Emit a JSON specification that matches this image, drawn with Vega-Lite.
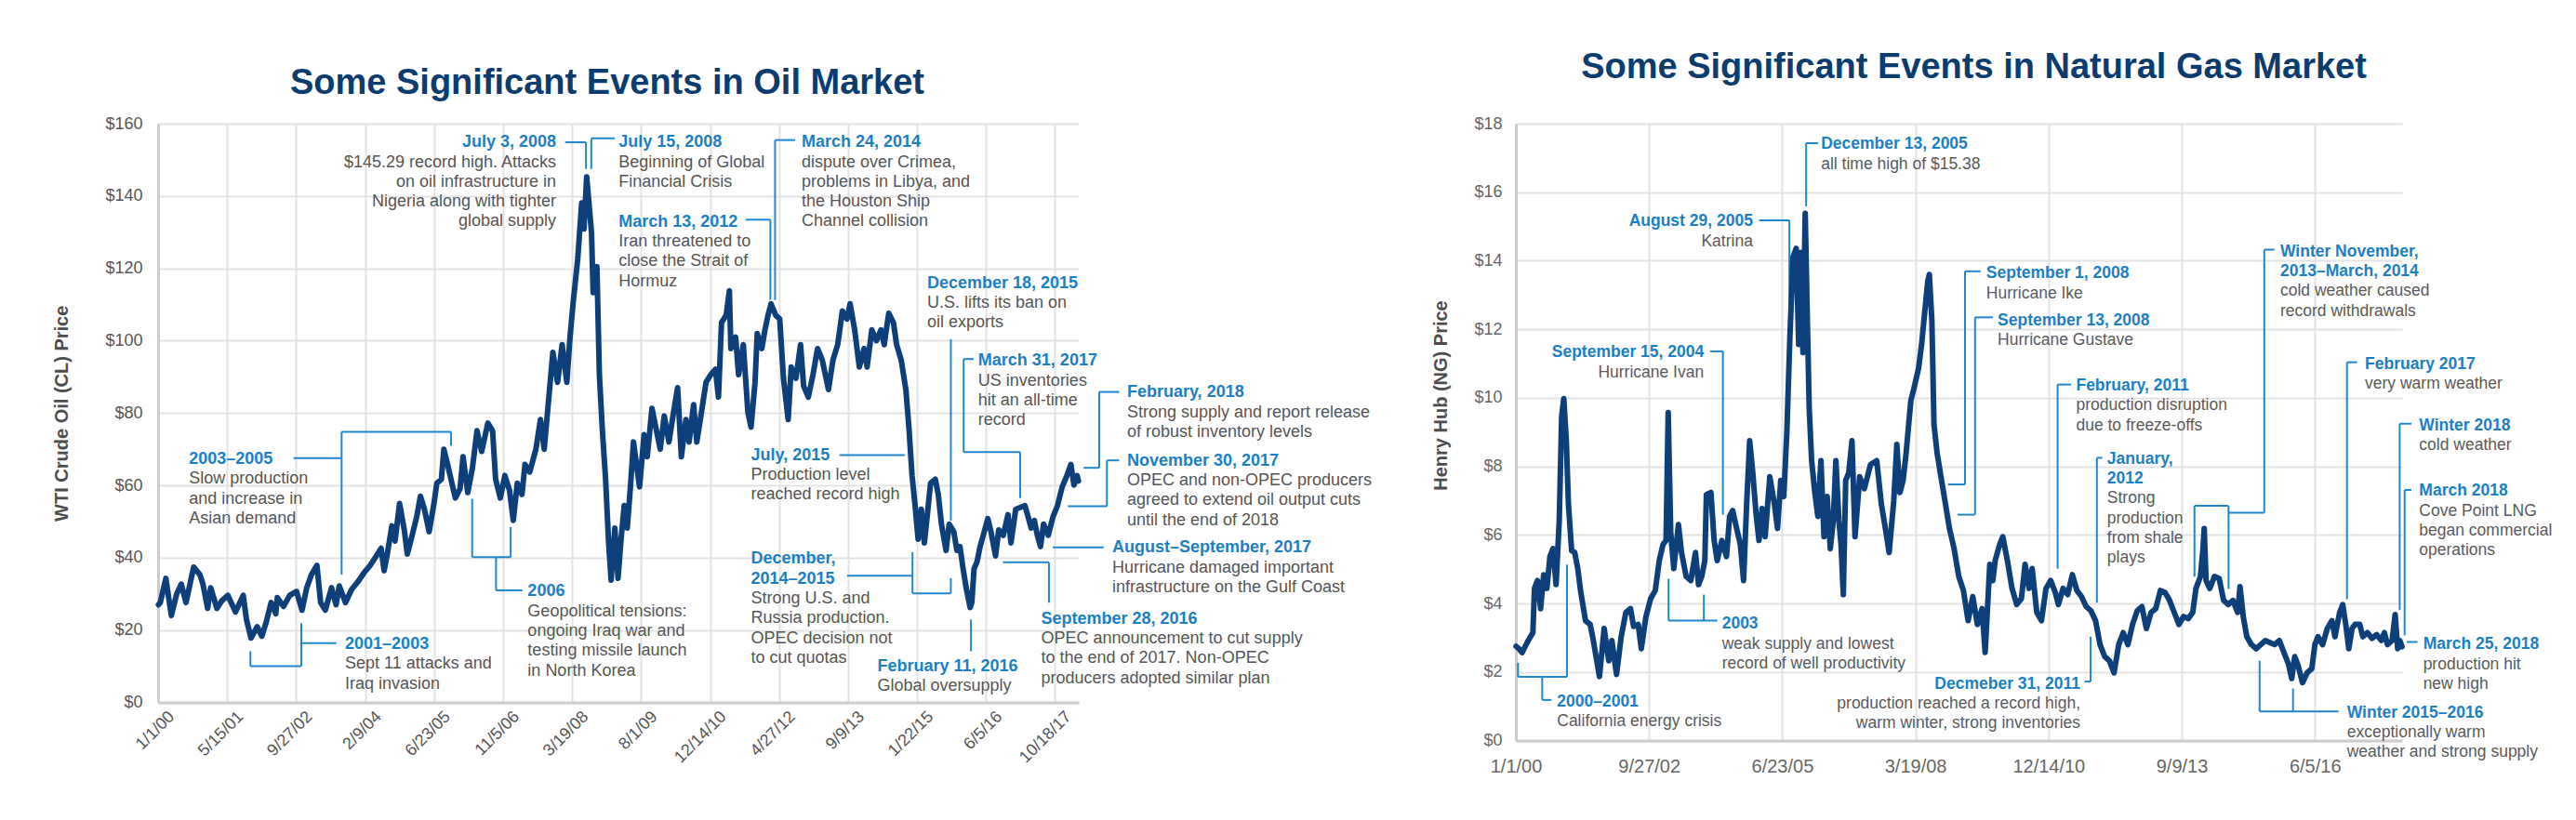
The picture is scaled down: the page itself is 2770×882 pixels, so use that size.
{
  "$schema": "https://vega.github.io/schema/vega-lite/v6.json",
  "autosize": {"type": "none"},
  "padding": {"left": 170, "top": 133, "right": 2600, "bottom": 749},
  "background": "white",
  "config": {
    "view": {"stroke": null},
    "font": "Liberation Sans"
  },
  "datasets": {
    "oil": [
      {"date": "2000-01-04", "price": 27.0}, {"date": "2000-01-17", "price": 27.6}, {"date": "2000-02-26", "price": 34.3}, {"date": "2000-04-06", "price": 24.0}, {"date": "2000-05-15", "price": 30.0}, {"date": "2000-06-17", "price": 32.7}, {"date": "2000-07-21", "price": 27.6}, {"date": "2000-09-15", "price": 37.4}, {"date": "2000-10-30", "price": 35.3}, {"date": "2000-11-21", "price": 32.7}, {"date": "2000-12-25", "price": 26.0},
      {"date": "2001-01-16", "price": 31.7}, {"date": "2001-03-02", "price": 26.0}, {"date": "2001-04-05", "price": 28.0}, {"date": "2001-05-20", "price": 29.6}, {"date": "2001-07-15", "price": 25.0}, {"date": "2001-09-09", "price": 29.6}, {"date": "2001-10-02", "price": 23.0}, {"date": "2001-11-04", "price": 17.8}, {"date": "2001-12-19", "price": 20.9},
      {"date": "2002-01-22", "price": 18.3}, {"date": "2002-02-24", "price": 22.4}, {"date": "2002-03-30", "price": 27.6}, {"date": "2002-05-03", "price": 24.5}, {"date": "2002-05-14", "price": 29.0}, {"date": "2002-06-28", "price": 26.5}, {"date": "2002-08-12", "price": 29.6}, {"date": "2002-09-30", "price": 30.7}, {"date": "2002-11-09", "price": 25.5}, {"date": "2002-12-13", "price": 31.7},
      {"date": "2003-01-16", "price": 35.3}, {"date": "2003-02-25", "price": 37.9}, {"date": "2003-03-24", "price": 27.6}, {"date": "2003-04-27", "price": 25.5}, {"date": "2003-06-11", "price": 31.7}, {"date": "2003-07-14", "price": 27.0}, {"date": "2003-08-06", "price": 32.2}, {"date": "2003-09-20", "price": 27.6}, {"date": "2003-11-03", "price": 31.2}, {"date": "2003-12-18", "price": 33.3},
      {"date": "2004-02-01", "price": 35.8}, {"date": "2004-03-17", "price": 37.9}, {"date": "2004-05-01", "price": 40.5}, {"date": "2004-06-04", "price": 42.6}, {"date": "2004-06-26", "price": 36.4}, {"date": "2004-07-19", "price": 41.0}, {"date": "2004-08-21", "price": 48.8}, {"date": "2004-09-13", "price": 44.6}, {"date": "2004-10-16", "price": 55.0}, {"date": "2004-11-19", "price": 47.7}, {"date": "2004-12-11", "price": 41.0},
      {"date": "2005-01-14", "price": 46.0}, {"date": "2005-02-17", "price": 51.3}, {"date": "2005-03-16", "price": 57.0}, {"date": "2005-04-14", "price": 53.4}, {"date": "2005-05-18", "price": 47.2}, {"date": "2005-06-20", "price": 54.4}, {"date": "2005-07-13", "price": 60.6}, {"date": "2005-08-15", "price": 61.7}, {"date": "2005-09-02", "price": 70.0}, {"date": "2005-09-29", "price": 65.8}, {"date": "2005-11-02", "price": 60.1}, {"date": "2005-11-24", "price": 56.5}, {"date": "2005-12-28", "price": 59.0},
      {"date": "2006-01-19", "price": 67.9}, {"date": "2006-02-22", "price": 58.0}, {"date": "2006-03-28", "price": 64.8}, {"date": "2006-04-30", "price": 75.1}, {"date": "2006-06-03", "price": 69.4}, {"date": "2006-07-18", "price": 77.2}, {"date": "2006-08-21", "price": 75.1}, {"date": "2006-09-12", "price": 61.7}, {"date": "2006-10-16", "price": 56.5}, {"date": "2006-11-18", "price": 62.7}, {"date": "2006-12-22", "price": 58.6},
      {"date": "2007-01-18", "price": 50.3}, {"date": "2007-02-16", "price": 60.6}, {"date": "2007-03-22", "price": 57.5}, {"date": "2007-04-13", "price": 65.8}, {"date": "2007-05-17", "price": 63.7}, {"date": "2007-07-01", "price": 70.0}, {"date": "2007-08-03", "price": 78.2}, {"date": "2007-08-30", "price": 70.0}, {"date": "2007-09-28", "price": 82.3}, {"date": "2007-11-01", "price": 96.8}, {"date": "2007-12-05", "price": 88.5},
      {"date": "2008-01-07", "price": 98.9}, {"date": "2008-02-10", "price": 88.5}, {"date": "2008-03-04", "price": 100.9}, {"date": "2008-03-26", "price": 110.2}, {"date": "2008-04-29", "price": 122.6}, {"date": "2008-05-28", "price": 138.1}, {"date": "2008-06-13", "price": 130.9}, {"date": "2008-07-03", "price": 145.29}, {"date": "2008-08-07", "price": 129.8}, {"date": "2008-08-19", "price": 113.3}, {"date": "2008-09-15", "price": 120.5}, {"date": "2008-10-03", "price": 90.6}, {"date": "2008-10-25", "price": 75.1}, {"date": "2008-11-17", "price": 61.7}, {"date": "2008-12-09", "price": 44.1}, {"date": "2008-12-27", "price": 33.8},
      {"date": "2009-01-23", "price": 48.2}, {"date": "2009-02-15", "price": 34.3}, {"date": "2009-03-09", "price": 45.1}, {"date": "2009-04-01", "price": 54.4}, {"date": "2009-04-23", "price": 48.2}, {"date": "2009-05-16", "price": 59.6}, {"date": "2009-06-07", "price": 72.0}, {"date": "2009-07-21", "price": 59.6}, {"date": "2009-08-23", "price": 74.0}, {"date": "2009-09-15", "price": 67.9}, {"date": "2009-10-19", "price": 81.3}, {"date": "2009-11-21", "price": 75.1}, {"date": "2009-12-18", "price": 70.0},
      {"date": "2010-01-16", "price": 79.2}, {"date": "2010-02-19", "price": 72.0}, {"date": "2010-03-25", "price": 80.3}, {"date": "2010-04-23", "price": 87.0}, {"date": "2010-05-20", "price": 67.9}, {"date": "2010-06-22", "price": 78.2}, {"date": "2010-07-15", "price": 72.0}, {"date": "2010-08-17", "price": 82.3}, {"date": "2010-09-09", "price": 72.0}, {"date": "2010-10-13", "price": 80.3}, {"date": "2010-11-15", "price": 88.5}, {"date": "2010-12-19", "price": 90.6},
      {"date": "2011-01-22", "price": 92.1}, {"date": "2011-02-13", "price": 84.4}, {"date": "2011-03-07", "price": 105.0}, {"date": "2011-04-10", "price": 107.0}, {"date": "2011-05-03", "price": 113.8}, {"date": "2011-05-14", "price": 97.8}, {"date": "2011-06-17", "price": 101.0}, {"date": "2011-07-09", "price": 90.6}, {"date": "2011-08-12", "price": 98.9}, {"date": "2011-09-14", "price": 80.3}, {"date": "2011-10-07", "price": 76.1}, {"date": "2011-11-05", "price": 88.5}, {"date": "2011-11-21", "price": 102.0}, {"date": "2011-12-24", "price": 97.8},
      {"date": "2012-01-16", "price": 103.0}, {"date": "2012-02-07", "price": 107.0}, {"date": "2012-02-29", "price": 110.2}, {"date": "2012-04-03", "price": 107.0}, {"date": "2012-05-02", "price": 106.0}, {"date": "2012-05-29", "price": 89.6}, {"date": "2012-07-02", "price": 78.2}, {"date": "2012-07-24", "price": 92.7}, {"date": "2012-08-27", "price": 89.6}, {"date": "2012-09-30", "price": 98.9}, {"date": "2012-10-22", "price": 87.5}, {"date": "2012-11-25", "price": 84.4}, {"date": "2012-12-29", "price": 90.6},
      {"date": "2013-01-31", "price": 97.8}, {"date": "2013-03-06", "price": 94.7}, {"date": "2013-04-20", "price": 86.5}, {"date": "2013-05-23", "price": 94.7}, {"date": "2013-06-26", "price": 98.9}, {"date": "2013-07-30", "price": 108.2}, {"date": "2013-09-01", "price": 106.0}, {"date": "2013-09-24", "price": 110.2}, {"date": "2013-10-27", "price": 103.0}, {"date": "2013-11-30", "price": 92.7},
      {"date": "2014-01-03", "price": 97.8}, {"date": "2014-01-25", "price": 92.7}, {"date": "2014-02-28", "price": 103.0}, {"date": "2014-04-03", "price": 100.0}, {"date": "2014-05-06", "price": 103.0}, {"date": "2014-05-29", "price": 98.9}, {"date": "2014-07-01", "price": 107.6}, {"date": "2014-08-04", "price": 105.0}, {"date": "2014-08-27", "price": 98.9}, {"date": "2014-09-29", "price": 94.7}, {"date": "2014-11-02", "price": 86.5}, {"date": "2014-11-24", "price": 76.1}, {"date": "2014-12-17", "price": 62.7},
      {"date": "2015-01-08", "price": 54.4}, {"date": "2015-01-30", "price": 45.1}, {"date": "2015-02-22", "price": 53.4}, {"date": "2015-03-16", "price": 44.1}, {"date": "2015-04-08", "price": 52.4}, {"date": "2015-04-30", "price": 60.6}, {"date": "2015-06-03", "price": 61.7}, {"date": "2015-06-25", "price": 57.5}, {"date": "2015-07-18", "price": 49.3}, {"date": "2015-08-20", "price": 42.0}, {"date": "2015-09-12", "price": 49.3}, {"date": "2015-10-15", "price": 47.2}, {"date": "2015-11-07", "price": 42.0}, {"date": "2015-11-29", "price": 43.1}, {"date": "2015-12-22", "price": 36.9},
      {"date": "2016-01-13", "price": 31.7}, {"date": "2016-02-11", "price": 26.2}, {"date": "2016-02-23", "price": 27.6}, {"date": "2016-03-10", "price": 36.9}, {"date": "2016-04-01", "price": 38.9}, {"date": "2016-04-23", "price": 43.1}, {"date": "2016-05-16", "price": 46.2}, {"date": "2016-06-18", "price": 50.8}, {"date": "2016-07-11", "price": 47.2}, {"date": "2016-08-13", "price": 40.5}, {"date": "2016-09-05", "price": 47.7}, {"date": "2016-10-08", "price": 46.2}, {"date": "2016-11-11", "price": 51.9}, {"date": "2016-12-03", "price": 44.1},
      {"date": "2017-01-06", "price": 53.4}, {"date": "2017-02-09", "price": 53.9}, {"date": "2017-03-14", "price": 54.4}, {"date": "2017-04-06", "price": 51.3}, {"date": "2017-04-28", "price": 48.2}, {"date": "2017-05-21", "price": 50.3}, {"date": "2017-06-12", "price": 46.2}, {"date": "2017-07-05", "price": 43.1}, {"date": "2017-07-27", "price": 49.3}, {"date": "2017-08-30", "price": 46.2}, {"date": "2017-10-03", "price": 51.3}, {"date": "2017-11-05", "price": 54.4}, {"date": "2017-12-09", "price": 59.6},
      {"date": "2018-01-12", "price": 62.7}, {"date": "2018-02-10", "price": 65.8}, {"date": "2018-03-04", "price": 60.1}, {"date": "2018-03-27", "price": 62.7}, {"date": "2018-04-06", "price": 61.2}
    ],
    "gas": [
      {"date": "2000-01-03", "price": 2.75}, {"date": "2000-01-24", "price": 2.68}, {"date": "2000-02-17", "price": 2.57}, {"date": "2000-04-03", "price": 2.92}, {"date": "2000-05-08", "price": 3.15}, {"date": "2000-05-20", "price": 4.44}, {"date": "2000-06-12", "price": 4.67}, {"date": "2000-07-05", "price": 3.85}, {"date": "2000-07-28", "price": 4.84}, {"date": "2000-08-21", "price": 4.44}, {"date": "2000-09-13", "price": 5.37}, {"date": "2000-10-06", "price": 5.6}, {"date": "2000-10-29", "price": 4.55}, {"date": "2000-11-22", "price": 6.42}, {"date": "2000-12-10", "price": 9.46}, {"date": "2000-12-26", "price": 9.98},
      {"date": "2001-01-14", "price": 8.75}, {"date": "2001-01-30", "price": 6.89}, {"date": "2001-02-23", "price": 5.54}, {"date": "2001-03-18", "price": 5.49}, {"date": "2001-04-10", "price": 5.02}, {"date": "2001-05-03", "price": 4.32}, {"date": "2001-06-07", "price": 3.5}, {"date": "2001-07-12", "price": 3.39}, {"date": "2001-08-05", "price": 2.92}, {"date": "2001-08-28", "price": 2.39}, {"date": "2001-09-20", "price": 1.87}, {"date": "2001-10-25", "price": 3.27}, {"date": "2001-11-29", "price": 2.33}, {"date": "2001-12-22", "price": 2.92},
      {"date": "2002-01-26", "price": 1.93}, {"date": "2002-03-02", "price": 3.03}, {"date": "2002-04-06", "price": 3.74}, {"date": "2002-05-11", "price": 3.85}, {"date": "2002-06-03", "price": 3.33}, {"date": "2002-07-08", "price": 3.39}, {"date": "2002-07-31", "price": 2.68}, {"date": "2002-09-04", "price": 3.62}, {"date": "2002-10-09", "price": 4.14}, {"date": "2002-11-13", "price": 4.38}, {"date": "2002-12-13", "price": 5.25},
      {"date": "2003-01-10", "price": 5.72}, {"date": "2003-02-02", "price": 5.84}, {"date": "2003-02-18", "price": 9.57}, {"date": "2003-03-09", "price": 6.07}, {"date": "2003-04-01", "price": 5.02}, {"date": "2003-05-06", "price": 6.3}, {"date": "2003-05-29", "price": 5.49}, {"date": "2003-07-03", "price": 4.79}, {"date": "2003-08-07", "price": 4.67}, {"date": "2003-09-11", "price": 5.49}, {"date": "2003-10-04", "price": 4.55}, {"date": "2003-10-28", "price": 4.79}, {"date": "2003-11-20", "price": 5.25}, {"date": "2003-12-02", "price": 7.18},
      {"date": "2004-01-05", "price": 7.24}, {"date": "2004-01-29", "price": 5.84}, {"date": "2004-02-21", "price": 5.25}, {"date": "2004-03-27", "price": 5.84}, {"date": "2004-05-01", "price": 5.37}, {"date": "2004-05-24", "price": 6.54}, {"date": "2004-06-16", "price": 6.71}, {"date": "2004-07-16", "price": 6.19}, {"date": "2004-08-13", "price": 5.72}, {"date": "2004-09-06", "price": 4.67}, {"date": "2004-09-29", "price": 6.89}, {"date": "2004-10-22", "price": 8.75}, {"date": "2004-11-14", "price": 7.82}, {"date": "2004-12-08", "price": 6.65}, {"date": "2004-12-31", "price": 5.84},
      {"date": "2005-01-23", "price": 6.77}, {"date": "2005-02-15", "price": 5.95}, {"date": "2005-03-22", "price": 7.7}, {"date": "2005-04-26", "price": 6.89}, {"date": "2005-05-19", "price": 6.19}, {"date": "2005-06-12", "price": 7.59}, {"date": "2005-07-05", "price": 7.12}, {"date": "2005-07-28", "price": 8.99}, {"date": "2005-08-20", "price": 11.79}, {"date": "2005-09-13", "price": 14.12}, {"date": "2005-10-06", "price": 14.36}, {"date": "2005-10-25", "price": 11.56}, {"date": "2005-11-10", "price": 14.24}, {"date": "2005-11-26", "price": 11.32}, {"date": "2005-12-13", "price": 15.38}, {"date": "2005-12-26", "price": 12.84},
      {"date": "2006-01-12", "price": 9.69}, {"date": "2006-01-30", "price": 8.17}, {"date": "2006-02-23", "price": 7.24}, {"date": "2006-03-18", "price": 6.54}, {"date": "2006-04-10", "price": 8.17}, {"date": "2006-05-03", "price": 5.95}, {"date": "2006-05-27", "price": 7.12}, {"date": "2006-06-19", "price": 5.6}, {"date": "2006-07-12", "price": 6.42}, {"date": "2006-07-31", "price": 8.17}, {"date": "2006-08-23", "price": 6.42}, {"date": "2006-09-08", "price": 5.72}, {"date": "2006-09-25", "price": 4.26}, {"date": "2006-10-13", "price": 7.59}, {"date": "2006-11-05", "price": 7.82}, {"date": "2006-11-29", "price": 8.75}, {"date": "2006-12-22", "price": 5.95},
      {"date": "2007-01-26", "price": 7.7}, {"date": "2007-03-02", "price": 7.35}, {"date": "2007-04-17", "price": 8.05}, {"date": "2007-06-03", "price": 8.17}, {"date": "2007-07-08", "price": 6.89}, {"date": "2007-08-12", "price": 6.07}, {"date": "2007-09-04", "price": 5.49}, {"date": "2007-10-09", "price": 7.0}, {"date": "2007-11-01", "price": 8.64}, {"date": "2007-11-24", "price": 7.24}, {"date": "2007-12-18", "price": 7.59},
      {"date": "2008-01-10", "price": 8.4}, {"date": "2008-02-14", "price": 9.92}, {"date": "2008-03-08", "price": 10.27}, {"date": "2008-04-12", "price": 10.86}, {"date": "2008-05-05", "price": 11.56}, {"date": "2008-05-28", "price": 12.49}, {"date": "2008-06-21", "price": 13.42}, {"date": "2008-07-02", "price": 13.6}, {"date": "2008-07-21", "price": 12.26}, {"date": "2008-08-06", "price": 9.22}, {"date": "2008-08-29", "price": 8.4}, {"date": "2008-09-22", "price": 7.82}, {"date": "2008-10-27", "price": 7.0}, {"date": "2008-11-30", "price": 6.19},
      {"date": "2009-01-04", "price": 5.6}, {"date": "2009-02-08", "price": 4.79}, {"date": "2009-03-15", "price": 4.38}, {"date": "2009-04-19", "price": 3.5}, {"date": "2009-05-24", "price": 4.2}, {"date": "2009-06-28", "price": 3.39}, {"date": "2009-08-02", "price": 3.85}, {"date": "2009-08-25", "price": 2.57}, {"date": "2009-09-29", "price": 5.14}, {"date": "2009-10-22", "price": 4.67}, {"date": "2009-11-08", "price": 5.25}, {"date": "2009-12-12", "price": 5.72},
      {"date": "2010-01-05", "price": 5.95}, {"date": "2010-02-08", "price": 5.25}, {"date": "2010-03-15", "price": 4.44}, {"date": "2010-04-19", "price": 3.97}, {"date": "2010-05-24", "price": 4.14}, {"date": "2010-06-21", "price": 5.14}, {"date": "2010-07-21", "price": 4.44}, {"date": "2010-08-13", "price": 5.02}, {"date": "2010-09-17", "price": 3.74}, {"date": "2010-10-22", "price": 3.5}, {"date": "2010-11-25", "price": 4.44}, {"date": "2010-12-30", "price": 4.67},
      {"date": "2011-02-03", "price": 4.32}, {"date": "2011-02-26", "price": 3.97}, {"date": "2011-04-02", "price": 4.44}, {"date": "2011-05-07", "price": 4.26}, {"date": "2011-06-11", "price": 4.84}, {"date": "2011-07-15", "price": 4.38}, {"date": "2011-08-19", "price": 4.2}, {"date": "2011-09-23", "price": 3.91}, {"date": "2011-10-28", "price": 3.79}, {"date": "2011-12-02", "price": 3.5},
      {"date": "2012-01-05", "price": 2.8}, {"date": "2012-02-09", "price": 2.45}, {"date": "2012-03-15", "price": 2.33}, {"date": "2012-04-19", "price": 1.98}, {"date": "2012-05-24", "price": 2.8}, {"date": "2012-06-27", "price": 3.15}, {"date": "2012-08-01", "price": 2.8}, {"date": "2012-09-05", "price": 3.39}, {"date": "2012-10-10", "price": 3.79}, {"date": "2012-11-14", "price": 3.91}, {"date": "2012-12-18", "price": 3.27},
      {"date": "2013-01-22", "price": 3.74}, {"date": "2013-02-26", "price": 3.85}, {"date": "2013-04-02", "price": 4.38}, {"date": "2013-05-07", "price": 4.32}, {"date": "2013-06-10", "price": 4.09}, {"date": "2013-07-15", "price": 3.74}, {"date": "2013-08-19", "price": 3.39}, {"date": "2013-09-23", "price": 3.62}, {"date": "2013-10-28", "price": 3.56}, {"date": "2013-12-01", "price": 3.74}, {"date": "2013-12-25", "price": 4.44},
      {"date": "2014-01-28", "price": 4.79}, {"date": "2014-02-16", "price": 5.6}, {"date": "2014-02-25", "price": 6.19}, {"date": "2014-03-11", "price": 4.67}, {"date": "2014-04-08", "price": 4.44}, {"date": "2014-05-13", "price": 4.79}, {"date": "2014-06-17", "price": 4.73}, {"date": "2014-07-21", "price": 4.09}, {"date": "2014-08-25", "price": 3.97}, {"date": "2014-09-29", "price": 4.09}, {"date": "2014-11-03", "price": 3.74}, {"date": "2014-11-21", "price": 4.49}, {"date": "2014-12-15", "price": 3.62},
      {"date": "2015-01-11", "price": 3.03}, {"date": "2015-02-15", "price": 2.8}, {"date": "2015-03-22", "price": 2.68}, {"date": "2015-04-26", "price": 2.8}, {"date": "2015-05-31", "price": 2.92}, {"date": "2015-07-04", "price": 2.86}, {"date": "2015-08-08", "price": 2.8}, {"date": "2015-09-12", "price": 2.92}, {"date": "2015-10-17", "price": 2.57}, {"date": "2015-11-21", "price": 2.22}, {"date": "2015-12-14", "price": 1.81},
      {"date": "2016-01-06", "price": 2.45}, {"date": "2016-01-29", "price": 2.22}, {"date": "2016-03-04", "price": 1.69}, {"date": "2016-04-08", "price": 1.98}, {"date": "2016-05-13", "price": 2.1}, {"date": "2016-06-05", "price": 2.8}, {"date": "2016-06-28", "price": 3.03}, {"date": "2016-08-02", "price": 2.8}, {"date": "2016-09-06", "price": 3.27}, {"date": "2016-10-11", "price": 3.5}, {"date": "2016-11-03", "price": 3.03}, {"date": "2016-12-08", "price": 3.74}, {"date": "2016-12-31", "price": 3.97},
      {"date": "2017-01-23", "price": 3.39}, {"date": "2017-02-15", "price": 2.68}, {"date": "2017-03-11", "price": 3.27}, {"date": "2017-04-03", "price": 3.39}, {"date": "2017-05-08", "price": 3.39}, {"date": "2017-05-31", "price": 3.03}, {"date": "2017-07-04", "price": 3.15}, {"date": "2017-08-08", "price": 2.98}, {"date": "2017-09-12", "price": 3.09}, {"date": "2017-10-17", "price": 2.92}, {"date": "2017-11-09", "price": 3.15}, {"date": "2017-12-02", "price": 2.8},
      {"date": "2018-01-06", "price": 2.92}, {"date": "2018-01-29", "price": 3.68}, {"date": "2018-02-17", "price": 2.68}, {"date": "2018-03-05", "price": 2.92}, {"date": "2018-03-21", "price": 2.74}
    ],
    "oilNotesLeft": [
      {"date": "2009-02-19", "price": 153.5, "head": ["July 15, 2008"], "body": ["Beginning of Global", "Financial Crisis"]},
      {"date": "2009-02-19", "price": 131.5, "head": ["March 13, 2012"], "body": ["Iran threatened to", "close the Strait of", "Hormuz"]},
      {"date": "2012-10-07", "price": 153.5, "head": ["March 24, 2014"], "body": ["dispute over Crimea,", "problems in Libya, and", "the Houston Ship", "Channel collision"]},
      {"date": "2015-04-05", "price": 114.55, "head": ["December 18, 2015"], "body": ["U.S. lifts its ban on", "oil exports"]},
      {"date": "2016-04-09", "price": 93.11, "head": ["March 31, 2017"], "body": ["US inventories", "hit an all-time", "record"]},
      {"date": "2019-03-24", "price": 84.31, "head": ["February, 2018"], "body": ["Strong supply and report release", "of robust inventory levels"]},
      {"date": "2019-03-24", "price": 65.47, "head": ["November 30, 2017"], "body": ["OPEC and non-OPEC producers", "agreed to extend oil output cuts", "until the end of 2018"]},
      {"date": "2018-12-06", "price": 41.45, "head": ["August–September, 2017"], "body": ["Hurricane damaged important", "infrastructure on the Gulf Coast"]},
      {"date": "2017-07-09", "price": 21.8, "head": ["September 28, 2016"], "body": ["OPEC announcement to cut supply", "to the end of 2017. Non-OPEC", "producers adopted similar plan"]},
      {"date": "2014-04-10", "price": 8.56, "head": ["February 11, 2016"], "body": ["Global oversupply"]},
      {"date": "2011-10-06", "price": 38.34, "head": ["December,", "2014–2015"], "body": ["Strong U.S. and", "Russia production.", "OPEC decision not", "to cut quotas"]},
      {"date": "2011-10-06", "price": 67.04, "head": ["July, 2015"], "body": ["Production level", "reached record high"]},
      {"date": "2000-08-12", "price": 65.9, "head": ["2003–2005"], "body": ["Slow production", "and increase in", "Asian demand"]},
      {"date": "2007-05-02", "price": 29.34, "head": ["2006"], "body": ["Geopolitical tensions:", "ongoing Iraq war and", "testing missile launch", "in North Korea"]},
      {"date": "2003-09-17", "price": 14.76, "head": ["2001–2003"], "body": ["Sept 11 attacks and", "Iraq invasion"]}
    ],
    "oilNotesRight": [
      {"date": "2007-11-25", "price": 153.5, "head": ["July 3, 2008"], "body": ["$145.29 record high. Attacks", "on oil infrastructure in", "Nigeria along with tighter", "global supply"]}
    ],
    "oilLinks": [
      {"date": "2008-01-29", "price": 154.85, "date2": "2008-06-28", "price2": 154.85},
      {"date": "2008-06-28", "price": 154.85, "date2": "2008-06-28", "price2": 147.47},
      {"date": "2008-08-05", "price": 147.47, "date2": "2008-08-05", "price2": 155.95},
      {"date": "2008-08-05", "price": 155.95, "date2": "2009-01-23", "price2": 155.95},
      {"date": "2011-08-29", "price": 133.45, "date2": "2012-02-24", "price2": 133.45},
      {"date": "2012-02-24", "price": 133.45, "date2": "2012-02-24", "price2": 111.26},
      {"date": "2012-03-29", "price": 111.26, "date2": "2012-03-29", "price2": 155.46},
      {"date": "2012-03-29", "price": 155.46, "date2": "2012-08-22", "price2": 155.46},
      {"date": "2015-09-24", "price": 100.41, "date2": "2015-09-24", "price2": 50.27},
      {"date": "2015-12-26", "price": 94.93, "date2": "2016-03-07", "price2": 94.93},
      {"date": "2015-12-26", "price": 94.93, "date2": "2015-12-26", "price2": 69.2},
      {"date": "2015-12-26", "price": 69.2, "date2": "2017-02-07", "price2": 69.2},
      {"date": "2017-02-07", "price": 69.2, "date2": "2017-02-07", "price2": 56.49},
      {"date": "2018-09-03", "price": 85.83, "date2": "2019-01-26", "price2": 85.83},
      {"date": "2018-09-03", "price": 85.83, "date2": "2018-09-03", "price2": 64.85},
      {"date": "2018-05-13", "price": 64.85, "date2": "2018-09-03", "price2": 64.85},
      {"date": "2018-10-29", "price": 66.91, "date2": "2019-01-26", "price2": 66.91},
      {"date": "2018-10-29", "price": 66.91, "date2": "2018-10-29", "price2": 54.23},
      {"date": "2018-01-20", "price": 54.23, "date2": "2018-10-29", "price2": 54.23},
      {"date": "2017-10-01", "price": 42.89, "date2": "2018-10-06", "price2": 42.89},
      {"date": "2016-10-06", "price": 38.72, "date2": "2017-09-04", "price2": 38.72},
      {"date": "2017-09-04", "price": 38.72, "date2": "2017-09-04", "price2": 27.56},
      {"date": "2016-02-17", "price": 22.91, "date2": "2016-02-17", "price2": 14.14},
      {"date": "2013-09-02", "price": 35.0, "date2": "2014-12-20", "price2": 35.0},
      {"date": "2014-12-20", "price": 41.53, "date2": "2014-12-20", "price2": 30.16},
      {"date": "2014-12-20", "price": 30.16, "date2": "2015-09-24", "price2": 30.16},
      {"date": "2015-09-24", "price": 34.33, "date2": "2015-09-24", "price2": 30.16},
      {"date": "2002-09-09", "price": 67.55, "date2": "2003-08-23", "price2": 67.55},
      {"date": "2003-08-23", "price": 74.78, "date2": "2003-08-23", "price2": 35.33},
      {"date": "2003-08-23", "price": 74.78, "date2": "2005-10-24", "price2": 74.78},
      {"date": "2005-10-24", "price": 74.78, "date2": "2005-10-24", "price2": 70.97},
      {"date": "2006-09-15", "price": 30.98, "date2": "2007-03-25", "price2": 30.98},
      {"date": "2006-09-15", "price": 30.98, "date2": "2006-09-15", "price2": 40.16},
      {"date": "2006-03-26", "price": 40.16, "date2": "2006-12-30", "price2": 40.16},
      {"date": "2006-03-26", "price": 56.29, "date2": "2006-03-26", "price2": 40.16},
      {"date": "2006-12-30", "price": 48.47, "date2": "2006-12-30", "price2": 40.16},
      {"date": "2002-11-04", "price": 16.41, "date2": "2003-07-16", "price2": 16.41},
      {"date": "2001-10-31", "price": 14.14, "date2": "2001-10-31", "price2": 10.0},
      {"date": "2001-10-31", "price": 10.0, "date2": "2002-11-04", "price2": 10.0},
      {"date": "2002-11-04", "price": 21.88, "date2": "2002-11-04", "price2": 10.0},
      {"date": "2013-07-10", "price": 68.37, "date2": "2014-10-25", "price2": 68.37}
    ],
    "gasNotesLeft": [
      {"date": "2006-04-11", "price": 17.257, "head": ["December 13, 2005"], "body": ["all time high of $15.38"]},
      {"date": "2004-03-28", "price": 3.264, "head": ["2003"], "body": ["weak supply and lowest", "record of well productivity"]},
      {"date": "2000-11-05", "price": 0.9875, "head": ["2000–2001"], "body": ["California energy crisis"]},
      {"date": "2009-09-02", "price": 13.49, "head": ["September 1, 2008"], "body": ["Hurricane Ike"]},
      {"date": "2009-11-27", "price": 12.116, "head": ["September 13, 2008"], "body": ["Hurricane Gustave"]},
      {"date": "2011-07-09", "price": 10.214, "head": ["February, 2011"], "body": ["production disruption", "due to freeze-offs"]},
      {"date": "2012-02-27", "price": 8.077, "head": ["January,", "2012"], "body": ["Strong", "production", "from shale", "plays"]},
      {"date": "2015-09-19", "price": 14.126, "head": ["Winter November,", "2013–March, 2014"], "body": ["cold weather caused", "record withdrawals"]},
      {"date": "2017-06-16", "price": 10.844, "head": ["February 2017"], "body": ["very warm weather"]},
      {"date": "2018-07-28", "price": 9.05, "head": ["Winter 2018"], "body": ["cold weather"]},
      {"date": "2018-07-28", "price": 7.141, "head": ["March 2018"], "body": ["Cove Point LNG", "began commercial", "operations"]},
      {"date": "2018-08-27", "price": 2.664, "head": ["March 25, 2018"], "body": ["production hit", "new high"]},
      {"date": "2017-02-01", "price": 0.678, "head": ["Winter 2015–2016"], "body": ["exceptionally warm", "weather and strong supply"]}
    ],
    "gasNotesRight": [
      {"date": "2004-11-15", "price": 15.003, "head": ["August 29, 2005"], "body": ["Katrina"]},
      {"date": "2003-11-13", "price": 11.183, "head": ["September 15, 2004"], "body": ["Hurricane Ivan"]},
      {"date": "2011-08-10", "price": 1.514, "head": ["Decmeber 31, 2011"], "body": ["production reached a record high,", "warm winter, strong inventories"]}
    ],
    "gasLinks": [
      {"date": "2005-12-20", "price": 17.431, "date2": "2006-03-19", "price2": 17.431},
      {"date": "2005-12-20", "price": 17.431, "date2": "2005-12-20", "price2": 15.583},
      {"date": "2005-01-01", "price": 15.176, "date2": "2005-08-16", "price2": 15.176},
      {"date": "2005-08-16", "price": 15.176, "date2": "2005-08-16", "price2": 12.724},
      {"date": "2003-12-30", "price": 11.357, "date2": "2004-04-04", "price2": 11.357},
      {"date": "2004-04-04", "price": 11.357, "date2": "2004-04-04", "price2": 6.592},
      {"date": "2003-02-21", "price": 3.5, "date2": "2004-02-22", "price2": 3.5},
      {"date": "2003-02-21", "price": 4.723, "date2": "2003-02-21", "price2": 3.5},
      {"date": "2003-11-13", "price": 4.259, "date2": "2003-11-13", "price2": 3.5},
      {"date": "2000-01-17", "price": 2.271, "date2": "2000-01-17", "price2": 1.861},
      {"date": "2000-01-17", "price": 1.861, "date2": "2001-01-19", "price2": 1.861},
      {"date": "2001-01-19", "price": 5.133, "date2": "2001-01-19", "price2": 1.861},
      {"date": "2000-07-17", "price": 1.861, "date2": "2000-07-17", "price2": 1.186},
      {"date": "2000-07-17", "price": 1.186, "date2": "2000-09-24", "price2": 1.186},
      {"date": "2011-09-10", "price": 1.723, "date2": "2011-10-26", "price2": 1.723},
      {"date": "2011-10-26", "price": 3.03, "date2": "2011-10-26", "price2": 1.723},
      {"date": "2009-03-27", "price": 13.692, "date2": "2009-07-22", "price2": 13.692},
      {"date": "2009-03-27", "price": 13.692, "date2": "2009-03-27", "price2": 7.474},
      {"date": "2008-11-19", "price": 7.474, "date2": "2009-03-27", "price2": 7.474},
      {"date": "2009-06-10", "price": 12.349, "date2": "2009-10-23", "price2": 12.349},
      {"date": "2009-06-10", "price": 12.349, "date2": "2009-06-10", "price2": 6.592},
      {"date": "2009-01-29", "price": 6.592, "date2": "2009-06-10", "price2": 6.592},
      {"date": "2011-02-20", "price": 10.388, "date2": "2011-06-02", "price2": 10.388},
      {"date": "2011-02-20", "price": 10.388, "date2": "2011-02-20", "price2": 5.016},
      {"date": "2011-12-12", "price": 8.25, "date2": "2012-01-21", "price2": 8.25},
      {"date": "2011-12-12", "price": 8.25, "date2": "2011-12-12", "price2": 4.023},
      {"date": "2015-05-22", "price": 14.324, "date2": "2015-08-06", "price2": 14.324},
      {"date": "2015-05-22", "price": 14.324, "date2": "2015-05-22", "price2": 6.65},
      {"date": "2014-08-27", "price": 6.65, "date2": "2015-05-22", "price2": 6.65},
      {"date": "2014-08-27", "price": 6.85, "date2": "2014-08-27", "price2": 4.43},
      {"date": "2013-12-14", "price": 6.85, "date2": "2014-08-27", "price2": 6.85},
      {"date": "2013-12-14", "price": 6.85, "date2": "2013-12-14", "price2": 4.783},
      {"date": "2017-02-01", "price": 11.039, "date2": "2017-04-19", "price2": 11.039},
      {"date": "2017-02-01", "price": 11.039, "date2": "2017-02-01", "price2": 4.124},
      {"date": "2018-03-04", "price": 9.246, "date2": "2018-05-31", "price2": 9.246},
      {"date": "2018-03-04", "price": 9.246, "date2": "2018-03-04", "price2": 3.809},
      {"date": "2018-04-10", "price": 7.314, "date2": "2018-05-31", "price2": 7.314},
      {"date": "2018-04-10", "price": 7.314, "date2": "2018-04-10", "price2": 3.071},
      {"date": "2018-04-26", "price": 2.878, "date2": "2018-07-16", "price2": 2.878},
      {"date": "2015-04-17", "price": 0.852, "date2": "2016-11-30", "price2": 0.852},
      {"date": "2015-04-17", "price": 2.33, "date2": "2015-04-17", "price2": 0.852},
      {"date": "2015-12-24", "price": 1.519, "date2": "2015-12-24", "price2": 0.852}
    ]
  },
  "bounds": "flush",
  "spacing": 470,
  "hconcat": [
    {
      "width": 990,
      "height": 622.5,
      "title": {"text": "Some Significant Events in Oil Market", "anchor": "middle", "frame": "group", "offset": 23, "dx": -12, "dy": 38, "baseline": "alphabetic", "font": "Liberation Sans", "fontSize": 38, "fontWeight": "bold", "color": "#0b3c70"},
      "layer": [
        {
          "data": {"name": "oilLinks", "format": {"parse": {"date": "date", "date2": "date"}}},
          "mark": {"type": "rule", "color": "#1f86d0", "strokeWidth": 2},
          "encoding": {
            "x": {"field": "date", "type": "temporal"},
            "x2": {"field": "date2"},
            "y": {"field": "price", "type": "quantitative"},
            "y2": {"field": "price2"}
          }
        },
        {
          "data": {"name": "oil"},
          "mark": {"type": "line", "color": "#0d3f7a", "strokeWidth": 6, "strokeJoin": "round", "strokeCap": "round"},
          "encoding": {
            "x": {
              "field": "date", "type": "temporal",
              "scale": {"type": "utc", "nice": false, "domain": [{"year": 2000, "month": 1, "date": 1, "utc": true}, {"year": 2018, "month": 4, "date": 8, "utc": true}]},
              "axis": {
                "title": null,
                "values": [
                  {"year": 2000, "month": 1, "date": 1, "utc": true}, {"year": 2001, "month": 5, "date": 15, "utc": true}, {"year": 2002, "month": 9, "date": 27, "utc": true}, {"year": 2004, "month": 2, "date": 9, "utc": true}, {"year": 2005, "month": 6, "date": 23, "utc": true}, {"year": 2006, "month": 11, "date": 5, "utc": true}, {"year": 2008, "month": 3, "date": 19, "utc": true}, {"year": 2009, "month": 8, "date": 1, "utc": true}, {"year": 2010, "month": 12, "date": 14, "utc": true}, {"year": 2012, "month": 4, "date": 27, "utc": true}, {"year": 2013, "month": 9, "date": 9, "utc": true}, {"year": 2015, "month": 1, "date": 22, "utc": true}, {"year": 2016, "month": 6, "date": 5, "utc": true}, {"year": 2017, "month": 10, "date": 18, "utc": true}
                ],
                "format": "%-m/%-d/%y",
                "labelAngle": -45, "labelAlign": "right", "labelBaseline": "top",
                "labelFont": "Liberation Sans", "labelFontSize": 18, "labelColor": "#555555",
                "labelPadding": 6, "labelOffset": 8, "labelOverlap": false, "labelFlush": false,
                "ticks": false, "tickSize": 0,
                "grid": true, "gridColor": "#e3e3e3", "gridWidth": 2,
                "domain": true, "domainColor": "#cccccc", "domainWidth": 3
              }
            },
            "y": {
              "field": "price", "type": "quantitative",
              "scale": {"domain": [0, 160], "nice": false},
              "axis": {
                "title": "WTI Crude Oil (CL) Price",
                "titleFont": "Liberation Sans", "titleFontSize": 20, "titleFontWeight": "bold", "titleColor": "#4d4d4d", "titlePadding": 36,
                "values": [0, 20, 40, 60, 80, 100, 120, 140, 160],
                "labelExpr": "'$' + datum.value",
                "labelFont": "Liberation Sans", "labelFontSize": 18, "labelColor": "#555555", "labelPadding": 17,
                "ticks": false, "tickSize": 0,
                "grid": true, "gridColor": "#e3e3e3", "gridWidth": 2,
                "domain": true, "domainColor": "#cccccc", "domainWidth": 3
              }
            }
          }
        },
        {
          "data": {"name": "oilNotesLeft"},
          "mark": {"type": "text", "align": "left", "baseline": "alphabetic", "font": "Liberation Sans", "fontSize": 18, "lineHeight": 21.3, "color": "#555555", "dy": {"expr": "21.3 * length(datum.head)"}},
          "encoding": {"x": {"field": "date", "type": "temporal"}, "y": {"field": "price", "type": "quantitative"}, "text": {"field": "body", "type": "nominal"}}
        },
        {
          "data": {"name": "oilNotesLeft"},
          "mark": {"type": "text", "align": "left", "baseline": "alphabetic", "font": "Liberation Sans", "fontSize": 18, "fontWeight": "bold", "lineHeight": 21.3, "color": "#1b7fc6"},
          "encoding": {"x": {"field": "date", "type": "temporal"}, "y": {"field": "price", "type": "quantitative"}, "text": {"field": "head", "type": "nominal"}}
        },
        {
          "data": {"name": "oilNotesRight"},
          "mark": {"type": "text", "align": "right", "baseline": "alphabetic", "font": "Liberation Sans", "fontSize": 18, "lineHeight": 21.3, "color": "#555555", "dy": {"expr": "21.3 * length(datum.head)"}},
          "encoding": {"x": {"field": "date", "type": "temporal"}, "y": {"field": "price", "type": "quantitative"}, "text": {"field": "body", "type": "nominal"}}
        },
        {
          "data": {"name": "oilNotesRight"},
          "mark": {"type": "text", "align": "right", "baseline": "alphabetic", "font": "Liberation Sans", "fontSize": 18, "fontWeight": "bold", "lineHeight": 21.3, "color": "#1b7fc6"},
          "encoding": {"x": {"field": "date", "type": "temporal"}, "y": {"field": "price", "type": "quantitative"}, "text": {"field": "head", "type": "nominal"}}
        }
      ]
    },
    {
      "width": 953,
      "height": 663.6,
      "title": {"text": "Some Significant Events in Natural Gas Market", "anchor": "middle", "frame": "group", "offset": 40, "dx": 16, "dy": 38, "baseline": "alphabetic", "font": "Liberation Sans", "fontSize": 38, "fontWeight": "bold", "color": "#0b3c70"},
      "layer": [
        {
          "data": {"name": "gasLinks", "format": {"parse": {"date": "date", "date2": "date"}}},
          "mark": {"type": "rule", "color": "#1f86d0", "strokeWidth": 2},
          "encoding": {
            "x": {"field": "date", "type": "temporal"},
            "x2": {"field": "date2"},
            "y": {"field": "price", "type": "quantitative"},
            "y2": {"field": "price2"}
          }
        },
        {
          "data": {"name": "gas"},
          "mark": {"type": "line", "color": "#0d3f7a", "strokeWidth": 6, "strokeJoin": "round", "strokeCap": "round"},
          "encoding": {
            "x": {
              "field": "date", "type": "temporal",
              "scale": {"type": "utc", "nice": false, "domain": [{"year": 2000, "month": 1, "date": 1, "utc": true}, {"year": 2018, "month": 3, "date": 22, "utc": true}]},
              "axis": {
                "title": null,
                "values": [
                  {"year": 2000, "month": 1, "date": 1, "utc": true}, {"year": 2002, "month": 9, "date": 27, "utc": true}, {"year": 2005, "month": 6, "date": 23, "utc": true}, {"year": 2008, "month": 3, "date": 19, "utc": true}, {"year": 2010, "month": 12, "date": 14, "utc": true}, {"year": 2013, "month": 9, "date": 9, "utc": true}, {"year": 2016, "month": 6, "date": 5, "utc": true}
                ],
                "format": "%-m/%-d/%y",
                "labelAngle": 0,
                "labelFont": "Liberation Sans", "labelFontSize": 20, "labelColor": "#666666",
                "labelPadding": 18, "labelOverlap": false, "labelFlush": false,
                "ticks": false, "tickSize": 0,
                "grid": true, "gridColor": "#e3e3e3", "gridWidth": 2,
                "domain": true, "domainColor": "#cccccc", "domainWidth": 3
              }
            },
            "y": {
              "field": "price", "type": "quantitative",
              "scale": {"domain": [0, 18], "nice": false},
              "axis": {
                "title": "Henry Hub (NG) Price",
                "titleFont": "Liberation Sans", "titleFontSize": 20, "titleFontWeight": "bold", "titleColor": "#4d4d4d", "titlePadding": 25, "titleY": 292,
                "values": [0, 2, 4, 6, 8, 10, 12, 14, 16, 18],
                "labelExpr": "'$' + datum.value",
                "labelFont": "Liberation Sans", "labelFontSize": 18, "labelColor": "#666666", "labelPadding": 15,
                "ticks": false, "tickSize": 0,
                "grid": true, "gridColor": "#e3e3e3", "gridWidth": 2,
                "domain": true, "domainColor": "#cccccc", "domainWidth": 3
              }
            }
          }
        },
        {
          "data": {"name": "gasNotesLeft"},
          "mark": {"type": "text", "align": "left", "baseline": "alphabetic", "font": "Liberation Sans", "fontSize": 17.5, "lineHeight": 21.3, "color": "#5a5a5a", "dy": {"expr": "21.3 * length(datum.head)"}},
          "encoding": {"x": {"field": "date", "type": "temporal"}, "y": {"field": "price", "type": "quantitative"}, "text": {"field": "body", "type": "nominal"}}
        },
        {
          "data": {"name": "gasNotesLeft"},
          "mark": {"type": "text", "align": "left", "baseline": "alphabetic", "font": "Liberation Sans", "fontSize": 17.5, "fontWeight": "bold", "lineHeight": 21.3, "color": "#1b7fc6"},
          "encoding": {"x": {"field": "date", "type": "temporal"}, "y": {"field": "price", "type": "quantitative"}, "text": {"field": "head", "type": "nominal"}}
        },
        {
          "data": {"name": "gasNotesRight"},
          "mark": {"type": "text", "align": "right", "baseline": "alphabetic", "font": "Liberation Sans", "fontSize": 17.5, "lineHeight": 21.3, "color": "#5a5a5a", "dy": {"expr": "21.3 * length(datum.head)"}},
          "encoding": {"x": {"field": "date", "type": "temporal"}, "y": {"field": "price", "type": "quantitative"}, "text": {"field": "body", "type": "nominal"}}
        },
        {
          "data": {"name": "gasNotesRight"},
          "mark": {"type": "text", "align": "right", "baseline": "alphabetic", "font": "Liberation Sans", "fontSize": 17.5, "fontWeight": "bold", "lineHeight": 21.3, "color": "#1b7fc6"},
          "encoding": {"x": {"field": "date", "type": "temporal"}, "y": {"field": "price", "type": "quantitative"}, "text": {"field": "head", "type": "nominal"}}
        }
      ]
    }
  ]
}
